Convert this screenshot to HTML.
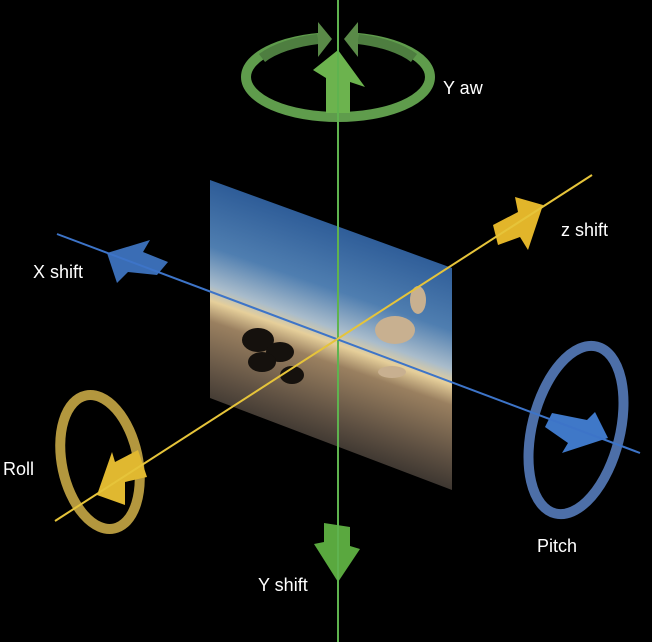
<!DOCTYPE html>
<html><head><meta charset="utf-8"><style>
html,body{margin:0;padding:0;background:#000;}
svg{display:block}
text{font-family:"Liberation Sans",sans-serif;font-size:18px;fill:#fff;}
</style></head><body>
<svg width="652" height="642" viewBox="0 0 652 642" xmlns="http://www.w3.org/2000/svg">
<defs>
<linearGradient id="sky" gradientUnits="userSpaceOnUse" x1="250" y1="170" x2="170" y2="400">
<stop offset="0" stop-color="#22508f"/>
<stop offset="0.35" stop-color="#4f7eb0"/>
<stop offset="0.5" stop-color="#a9bccb"/>
<stop offset="0.56" stop-color="#e6cf9a"/>
<stop offset="0.64" stop-color="#9a8060"/>
<stop offset="0.85" stop-color="#5e5042"/>
<stop offset="1" stop-color="#35302c"/>
</linearGradient>
</defs>
<rect width="652" height="642" fill="#000"/>
<!-- photo -->
<polygon points="210,180 452,268 452,490 210,398" fill="url(#sky)"/>
<g fill="#15110d">
<ellipse cx="258" cy="340" rx="16" ry="12"/>
<ellipse cx="280" cy="352" rx="14" ry="10"/>
<ellipse cx="262" cy="362" rx="14" ry="10"/>
<ellipse cx="292" cy="375" rx="12" ry="9"/>
</g>
<g fill="#c8b090">
<ellipse cx="395" cy="330" rx="20" ry="14"/>
<ellipse cx="418" cy="300" rx="8" ry="14"/>
<ellipse cx="392" cy="372" rx="14" ry="6"/>
</g>
<!-- yaw ring -->
<ellipse cx="338" cy="77" rx="92" ry="40" fill="none" stroke="#5f9c4c" stroke-width="10"/>
<path d="M262,58 A92,40 0 0 1 318,39" fill="none" stroke="#4e7e40" stroke-width="10"/>
<path d="M414,58 A92,40 0 0 0 358,39" fill="none" stroke="#4e7e40" stroke-width="10"/>
<rect x="318" y="28" width="40" height="22" fill="#000"/>
<polygon points="318,22 332,39 318,57" fill="#5a8a48"/>
<polygon points="358,22 344,39 358,57" fill="#5a8a48"/>
<polygon points="338,50 365,87 350,82 350,113 326,113 326,78 313,70" fill="#6cb34e"/>
<!-- y shift arrow -->
<polygon points="324,523 350,527 350,546 360,549 338,582 314,544 324,542" fill="#5aa83f"/>
<!-- roll -->
<ellipse cx="100" cy="462" rx="38" ry="68" transform="rotate(-12 100 462)" fill="none" stroke="#b3973e" stroke-width="10"/>
<polygon points="97,495 112,452 115,462 138,450 147,477 125,482 125,505" fill="#e0b830"/>
<!-- pitch -->
<ellipse cx="576" cy="430" rx="44" ry="86" transform="rotate(14 576 430)" fill="none" stroke="#4d6fa8" stroke-width="10"/>
<polygon points="545,427 552,413 587,420 595,412 608,438 562,453 568,443" fill="#3f78c8"/>
<!-- x shift arrow -->
<polygon points="107,253 150,240 143,252 168,262 157,275 128,272 117,283" fill="#3a6db5"/>
<!-- z shift arrow -->
<polygon points="543,205 515,197 518,212 493,225 498,245 520,237 528,250" fill="#e2b52a"/>
<!-- axes -->
<line x1="338" y1="0" x2="338" y2="642" stroke="#5fb34f" stroke-width="2"/>
<line x1="57" y1="234" x2="640" y2="453" stroke="#3d74c8" stroke-width="2"/>
<line x1="55" y1="521" x2="592" y2="175" stroke="#e6c43a" stroke-width="2"/>
<!-- labels -->
<text x="443" y="94">Y aw</text>
<text x="561" y="236">z shift</text>
<text x="33" y="278">X shift</text>
<text x="3" y="475">Roll</text>
<text x="537" y="552">Pitch</text>
<text x="258" y="591">Y shift</text>
</svg>
</body></html>
